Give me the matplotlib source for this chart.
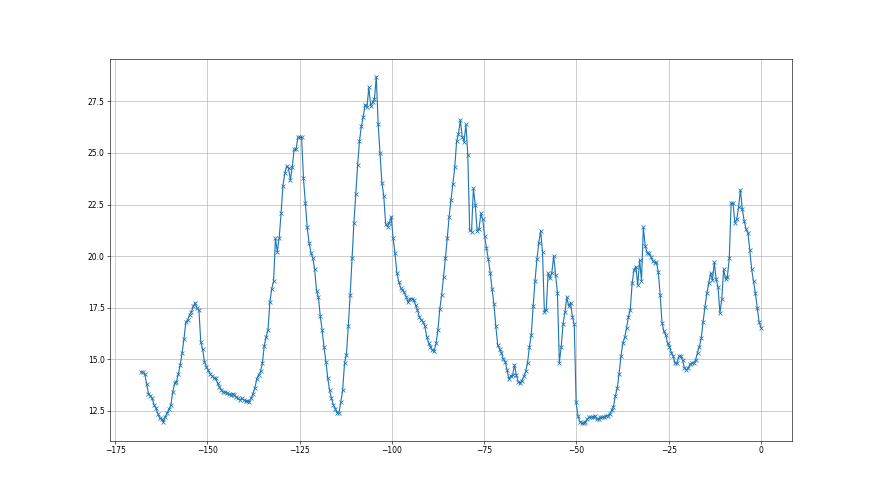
import numpy as np
import matplotlib
matplotlib.use("Agg")
import matplotlib.pyplot as plt

# values, left to right (about one sample every 0.5 on x)
y_vals = [
    14.38, 14.38, 14.29, 13.80, 13.33, 13.22, 13.09, 12.78, 12.61, 12.36,
    12.14, 12.09, 11.94, 12.20, 12.38, 12.57, 12.77, 13.40, 13.83, 13.90,
    14.29, 14.72, 15.29, 15.97, 16.79, 16.90, 17.16, 17.29, 17.56, 17.74,
    17.47, 17.39, 15.85, 15.48, 14.88, 14.64, 14.45, 14.27, 14.19, 14.08,
    14.06, 13.83, 13.64, 13.51, 13.40, 13.40, 13.36, 13.30, 13.28, 13.33,
    13.25, 13.15, 13.09, 13.01, 13.11, 13.02, 12.96, 12.98, 12.94, 13.11,
    13.32, 13.62, 14.03, 14.24, 14.40, 14.80, 15.64, 16.09, 16.42, 17.76,
    18.40, 18.79, 20.86, 20.21, 20.88, 22.07, 23.40, 24.01, 24.37, 24.25,
    23.69, 24.33, 25.17, 25.17, 25.76, 25.76, 25.76, 23.77, 22.56, 21.39,
    20.65, 20.17, 19.89, 19.36, 18.32, 18.00, 17.08, 16.40, 15.58, 14.88,
    14.08, 13.48, 13.09, 12.78, 12.60, 12.40, 12.40, 12.91, 13.51, 14.83,
    15.22, 16.61, 18.11, 19.89, 21.59, 22.99, 24.41, 25.59, 26.30, 26.76,
    27.35, 27.21, 28.18, 27.29, 27.45, 27.61, 28.70, 26.39, 24.98, 23.56,
    22.91, 21.56, 21.43, 21.62, 21.91, 20.86, 20.13, 19.20, 18.76, 18.47,
    18.36, 18.24, 18.03, 17.76, 17.92, 17.94, 17.87, 17.63, 17.39, 17.06,
    16.90, 16.82, 16.61, 16.09, 15.80, 15.61, 15.45, 15.40, 15.77, 16.42,
    17.42, 18.11, 19.00, 19.89, 20.86, 21.91, 22.72, 23.48, 24.30, 25.56,
    25.92, 26.60, 25.79, 25.55, 26.39, 24.90, 21.26, 21.18, 23.28, 22.48,
    21.23, 21.30, 22.07, 21.78, 20.97, 20.38, 19.84, 19.20, 18.39, 17.66,
    16.61, 15.69, 15.48, 15.32, 15.00, 14.88, 14.48, 14.03, 14.19, 14.22,
    14.72, 14.22, 13.91, 13.83, 13.96, 14.16, 14.40, 14.83, 15.61, 16.18,
    17.58, 18.81, 19.84, 20.62, 21.23, 20.21, 17.31, 17.39, 19.16, 18.92,
    19.20, 20.00, 19.08, 18.23, 14.83, 15.58, 16.71, 17.27, 18.00, 17.58,
    17.74, 17.06, 16.69, 12.90, 12.25, 11.96, 11.89, 11.89, 11.97, 12.09,
    12.18, 12.18, 12.18, 12.25, 12.09, 12.09, 12.18, 12.18, 12.18, 12.25,
    12.25, 12.35, 12.51, 12.70, 13.22, 13.59, 14.29, 15.13, 15.77, 16.06,
    16.50, 17.06, 17.39, 18.68, 19.33, 19.49, 18.60, 19.81, 18.81, 21.39,
    20.49, 20.17, 20.13, 19.97, 19.78, 19.68, 19.70, 19.24, 18.11, 16.77,
    16.34, 16.16, 15.77, 15.61, 15.32, 15.13, 14.80, 14.80, 15.13, 15.17,
    14.96, 14.56, 14.48, 14.56, 14.75, 14.80, 14.83, 14.96, 15.32, 15.61,
    16.01, 16.81, 17.55, 18.19, 18.68, 19.16, 18.84, 19.70, 18.87, 18.49,
    17.23, 17.92, 19.36, 18.89, 19.00, 19.89, 22.56, 22.56, 21.62, 21.78,
    22.40, 23.20, 22.27, 21.70, 21.31, 21.13, 20.29, 19.36, 18.79, 18.19,
    17.47, 16.79, 16.53,
]
x_start = -168
x_end = 0

x_vals = np.linspace(x_start, x_end, len(y_vals))

fig = plt.figure(figsize=(16, 9), dpi=55)
plt.plot(x_vals, y_vals, 'x-')
plt.grid(True)
plt.savefig("out.png", dpi=55)
